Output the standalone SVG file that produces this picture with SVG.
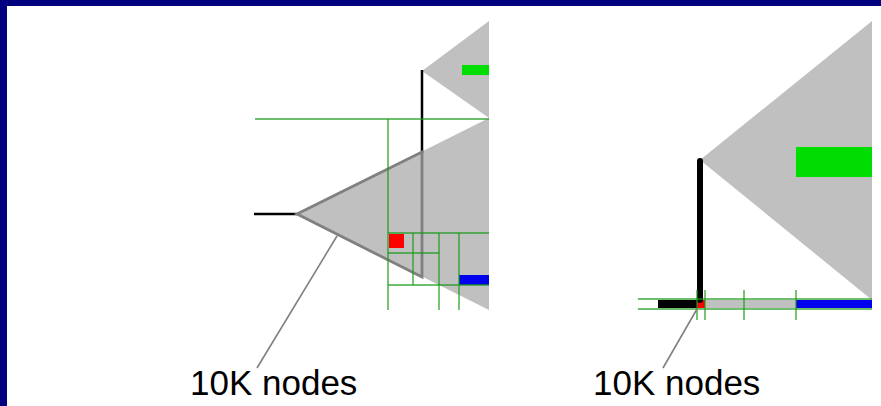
<svg xmlns="http://www.w3.org/2000/svg" width="881" height="406" viewBox="0 0 881 406">
  <style>
    .tri { fill: #c0c0c0; stroke: none; }
    .edge { fill: none; stroke: #808080; stroke-width: 2.8; stroke-linejoin: miter; }
    .stem { stroke: #000; fill: none; }
    .grid { stroke: #1a9a1a; stroke-width: 1.4; fill: none; opacity: 0.85; }
    .ptr { stroke: #808080; stroke-width: 1.6; fill: none; }
    .lbl { font-family: "Liberation Sans", Arial, sans-serif; font-size: 35px; fill: #000; }
  </style>

  <!-- frame -->
  <rect x="0" y="0" width="881" height="406" fill="#ffffff"/>
  <rect x="0" y="0" width="881" height="6" fill="#000080"/>
  <rect x="0" y="0" width="7" height="406" fill="#000080"/>

  <!-- left tree -->
  <g id="left-upper-subtree">
    <polygon class="tri" points="422,71 489,21 489,118"/>
    <rect x="462" y="65" width="27" height="10" fill="#00dd00"/>
  </g>
  <g id="left-main-subtree">
    <polygon class="tri" points="297,214 489,118 489,310"/>
    <rect x="389" y="234" width="15" height="14" fill="#ff0000"/>
    <rect x="459" y="275" width="30" height="10" fill="#0000ee"/>
  </g>

  <!-- right tree -->
  <g id="right-subtree">
    <polygon class="tri" points="700,160 872,21 872,300"/>
    <rect x="796" y="147" width="76" height="30" fill="#00dd00"/>
  </g>
  <g id="right-leaf-row">
    <rect x="658" y="300" width="40" height="8" fill="#000"/>
    <rect x="697" y="300" width="8" height="8" fill="#ff0000"/>
    <rect x="705" y="300" width="91" height="8" fill="#c0c0c0"/>
    <rect x="796" y="300" width="76" height="8" fill="#0000ee"/>
  </g>

  <g id="connectors">
    <!-- left tree stems -->
    <line class="stem" x1="254" y1="214" x2="297" y2="214" stroke-width="2.5"/>
    <line class="stem" x1="422" y1="70" x2="422" y2="153" stroke-width="2.5"/>
    <polygon class="edge" points="297,214 422,152 422,277"/>

    <!-- left grid -->
    <line class="grid" x1="255" y1="119" x2="489" y2="119"/>
    <line class="grid" x1="388" y1="119" x2="388" y2="310"/>
    <line class="grid" x1="388" y1="233" x2="489" y2="233"/>
    <line class="grid" x1="413" y1="233" x2="413" y2="285"/>
    <line class="grid" x1="388" y1="253" x2="439" y2="253"/>
    <line class="grid" x1="439" y1="233" x2="439" y2="310"/>
    <line class="grid" x1="459" y1="233" x2="459" y2="310"/>
    <line class="grid" x1="388" y1="285" x2="489" y2="285"/>

    <!-- right tree stem -->
    <line class="stem" x1="700" y1="161" x2="700" y2="300" stroke-width="6" stroke-linecap="round"/>

    <!-- right grid -->
    <line class="grid" x1="638" y1="299" x2="872" y2="299"/>
    <line class="grid" x1="638" y1="309" x2="872" y2="309"/>
    <line class="grid" x1="697" y1="290" x2="697" y2="320"/>
    <line class="grid" x1="705" y1="290" x2="705" y2="320"/>
    <line class="grid" x1="744" y1="290" x2="744" y2="320"/>
    <line class="grid" x1="796" y1="290" x2="796" y2="320"/>

    <!-- label pointers -->
    <line class="ptr" x1="337" y1="236" x2="257" y2="368"/>
    <line class="ptr" x1="697" y1="309" x2="663" y2="368"/>
  </g>

  <!-- labels -->
  <g id="label-left">
    <text class="lbl" x="190" y="395">10K nodes</text>
  </g>
  <g id="label-right">
    <text class="lbl" x="593" y="395">10K nodes</text>
  </g>
</svg>
